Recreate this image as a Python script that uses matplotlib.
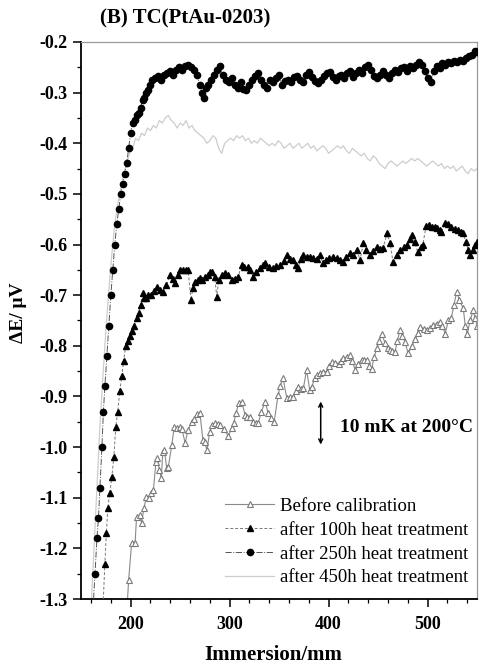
import matplotlib
matplotlib.use("Agg")
import matplotlib.pyplot as plt
from matplotlib.ticker import MultipleLocator, FormatStrFormatter

plt.rcParams["font.family"] = ["Liberation Serif", "DejaVu Serif"]

# ---- data (immersion mm, dE uV) ----
x_250 = [162, 164, 166, 167.5, 169, 171, 172.5, 174, 176, 178, 180, 182, 184, 186, 188, 190,
         192, 194, 196, 198, 200, 202, 204, 206, 208, 210, 212, 214, 216, 218, 220, 222,
         225, 228, 231, 234, 237, 240, 243, 246, 249, 252, 255, 258, 261, 264, 267, 270,
         272, 274, 276, 278, 281, 284, 287, 290, 293, 296, 299, 302, 305, 308, 311, 314,
         317, 320, 323, 326, 329, 332, 335, 338, 341, 344, 347, 350, 353, 356, 359, 362,
         365, 368, 371, 374, 377, 380, 383, 386, 389, 392, 395, 398, 401, 404, 407, 410,
         413, 416, 419, 422, 425, 428, 431, 434, 437, 440, 443, 446, 449, 452, 455, 458,
         461, 464, 467, 470, 473, 476, 479, 482, 485, 488, 491, 494, 497, 500, 503, 506,
         509, 512, 515, 518, 521, 524, 527, 530, 533, 536, 539, 542, 545, 548, 550]
y_250 = [-1.32, -1.25, -1.18, -1.14, -1.08, -1.00, -0.93, -0.88, -0.82, -0.76, -0.70, -0.65,
         -0.60, -0.56, -0.53, -0.50, -0.48, -0.46, -0.44, -0.41, -0.38, -0.36, -0.355, -0.345,
         -0.34, -0.33, -0.315, -0.31, -0.30, -0.295, -0.285, -0.275, -0.272, -0.268, -0.275,
         -0.265, -0.262, -0.258, -0.265, -0.255, -0.25, -0.255, -0.248, -0.245, -0.25, -0.255,
         -0.265, -0.285, -0.30, -0.31, -0.29, -0.285, -0.275, -0.265, -0.255, -0.248, -0.265,
         -0.275, -0.28, -0.272, -0.285, -0.29, -0.28, -0.292, -0.295, -0.285, -0.275, -0.268,
         -0.262, -0.275, -0.285, -0.29, -0.275, -0.28, -0.272, -0.265, -0.285, -0.278, -0.275,
         -0.28, -0.27, -0.268, -0.275, -0.28, -0.265, -0.26, -0.27, -0.278, -0.282, -0.275,
         -0.268, -0.262, -0.26, -0.27, -0.275, -0.268, -0.265, -0.272, -0.262, -0.258, -0.27,
         -0.262, -0.255, -0.262, -0.25, -0.245, -0.255, -0.268, -0.272, -0.265, -0.258, -0.265,
         -0.272, -0.262, -0.255, -0.26, -0.252, -0.25, -0.258, -0.248, -0.252, -0.245, -0.24,
         -0.245, -0.258, -0.272, -0.28, -0.258, -0.248, -0.252, -0.242, -0.245, -0.24, -0.242,
         -0.238, -0.24, -0.235, -0.238, -0.232, -0.228, -0.225, -0.218, -0.22]

x_450 = [160, 163, 166, 169, 172, 175, 178, 181, 184, 187, 190, 193, 196, 199, 202, 205,
         208, 211, 214, 217, 220, 223, 226, 229, 232, 235, 238, 241, 244, 247, 250, 253,
         256, 259, 262, 265, 268, 271, 274, 277, 280, 283, 286, 289, 292, 295, 298, 301,
         304, 307, 310, 313, 316, 319, 322, 325, 328, 331, 334, 337, 340, 343, 346, 349,
         352, 355, 358, 361, 364, 367, 370, 373, 376, 379, 382, 385, 388, 391, 394, 397,
         400, 403, 406, 409, 412, 415, 418, 421, 424, 427, 430, 433, 436, 439, 442, 445,
         448, 451, 454, 457, 460, 463, 466, 469, 472, 475, 478, 481, 484, 487, 490, 493,
         496, 499, 502, 505, 508, 511, 514, 517, 520, 523, 526, 529, 532, 535, 538, 541,
         544, 547, 550]
y_450 = [-1.32, -1.20, -1.08, -0.96, -0.86, -0.77, -0.69, -0.62, -0.56, -0.52, -0.49, -0.46,
         -0.44, -0.42, -0.41, -0.39, -0.395, -0.38, -0.385, -0.37, -0.375, -0.365, -0.37,
         -0.355, -0.36, -0.35, -0.345, -0.355, -0.36, -0.37, -0.36, -0.365, -0.355, -0.37,
         -0.365, -0.375, -0.38, -0.385, -0.39, -0.40, -0.395, -0.385, -0.39, -0.41, -0.42,
         -0.40, -0.395, -0.39, -0.395, -0.385, -0.39, -0.385, -0.395, -0.39, -0.40, -0.395,
         -0.40, -0.39, -0.395, -0.40, -0.405, -0.40, -0.405, -0.395, -0.40, -0.41, -0.405,
         -0.40, -0.41, -0.405, -0.40, -0.41, -0.405, -0.40, -0.41, -0.405, -0.415, -0.41,
         -0.405, -0.41, -0.42, -0.415, -0.41, -0.405, -0.41, -0.405, -0.415, -0.42, -0.41,
         -0.415, -0.42, -0.425, -0.42, -0.43, -0.435, -0.425, -0.43, -0.44, -0.445, -0.45,
         -0.44, -0.435, -0.44, -0.445, -0.44, -0.435, -0.44, -0.435, -0.43, -0.435, -0.43,
         -0.435, -0.44, -0.445, -0.44, -0.435, -0.44, -0.445, -0.44, -0.45, -0.445, -0.45,
         -0.445, -0.455, -0.45, -0.445, -0.455, -0.46, -0.45, -0.455, -0.45]

x_100 = [172, 174, 175.5, 177, 179, 181, 183, 185, 187, 189, 191, 193, 195, 197, 199.5, 201.5,
         203.5, 206, 208, 210, 212, 214, 216, 218, 221, 224, 227, 230, 233, 236, 240, 243,
         245, 248, 250, 253, 256, 258, 261, 263, 265, 268, 270, 272, 275, 278, 280, 282,
         285, 287, 289, 292, 295, 298, 302, 305, 308.6, 312, 315, 318.7, 321, 323.7, 327,
         330.8, 334, 336, 340, 344, 347, 351, 355, 358, 361, 364, 367, 369, 372, 374, 378,
         381, 384, 388, 391, 394.5, 397, 400, 404, 408, 411, 414.6, 418, 421.7, 425, 428.5,
         431.8, 435, 438, 442, 445, 448.7, 452, 455, 459, 462, 465, 469, 472, 476, 479, 482,
         484, 487, 490, 493, 495, 498.5, 501, 504, 507, 509, 512, 514, 517.7, 521, 524, 528,
         531, 534, 536, 538.6, 541, 543, 546, 548, 550]
y_100 = [-1.32, -1.23, -1.17, -1.12, -1.09, -1.06, -1.02, -0.96, -0.93, -0.89, -0.86, -0.83,
         -0.80, -0.79, -0.78, -0.77, -0.76, -0.745, -0.735, -0.72, -0.696, -0.705, -0.706,
         -0.70, -0.70, -0.692, -0.684, -0.69, -0.694, -0.68, -0.66, -0.668, -0.676, -0.66,
         -0.651, -0.651, -0.651, -0.651, -0.71, -0.685, -0.674, -0.67, -0.666, -0.67, -0.664,
         -0.66, -0.654, -0.654, -0.665, -0.703, -0.67, -0.66, -0.657, -0.66, -0.67, -0.668,
         -0.664, -0.641, -0.645, -0.644, -0.65, -0.664, -0.655, -0.647, -0.64, -0.637, -0.645,
         -0.647, -0.642, -0.641, -0.632, -0.621, -0.628, -0.631, -0.64, -0.647, -0.628, -0.621,
         -0.625, -0.624, -0.627, -0.628, -0.621, -0.637, -0.63, -0.627, -0.624, -0.627, -0.63,
         -0.634, -0.625, -0.617, -0.62, -0.611, -0.631, -0.597, -0.61, -0.621, -0.612, -0.605,
         -0.608, -0.607, -0.578, -0.597, -0.634, -0.62, -0.611, -0.605, -0.601, -0.59, -0.582,
         -0.595, -0.615, -0.605, -0.601, -0.564, -0.562, -0.565, -0.566, -0.568, -0.572,
         -0.575, -0.557, -0.56, -0.565, -0.57, -0.572, -0.575, -0.578, -0.595, -0.61, -0.621,
         -0.61, -0.601, -0.595]

x_bef = [196, 198, 201, 204.5, 206, 209.6, 211, 213.5, 216, 219, 221, 223, 225.5, 227, 229,
         231, 232.5, 234, 236.5, 238, 241.6, 244, 247, 250, 252, 255, 258, 261.8, 264, 266.8,
         270, 273, 275, 277, 280, 282, 285, 288, 290, 294, 298.8, 302, 304, 306.6, 309, 312.4,
         315.7, 318, 320.7, 324, 327, 329, 332, 335.9, 339, 342, 345, 349, 351, 354, 357.8,
         361, 364.4, 367, 369.5, 372, 374.5, 377.7, 381, 383, 386, 388.5, 391.4, 394.7, 398,
         400.5, 403, 406.5, 410, 412.5, 415, 418.5, 421.7, 424, 426.8, 430, 433.5, 436, 438.6,
         441, 443.6, 446, 448.7, 451, 453.7, 457, 459.5, 462, 464.5, 467, 469.5, 472, 474.5,
         477, 480.4, 484, 487.4, 490, 492.4, 496, 499, 502.5, 505.9, 509, 512.6, 515, 517.7,
         521, 524, 526.5, 529.5, 532, 536, 538, 540, 543, 546, 548, 550]
y_bef = [-1.33, -1.263, -1.19, -1.19, -1.138, -1.134, -1.15, -1.12, -1.098, -1.10, -1.09,
         -1.085, -1.03, -1.022, -1.045, -1.061, -1.01, -1.006, -1.041, -1.04, -0.996, -0.96,
         -0.962, -0.96, -0.965, -0.992, -0.967, -0.95, -0.945, -0.935, -0.933, -0.986, -0.99,
         -1.006, -0.97, -0.957, -0.953, -0.955, -0.957, -0.965, -0.978, -0.963, -0.953,
         -0.933, -0.913, -0.911, -0.937, -0.94, -0.94, -0.95, -0.952, -0.953, -0.93, -0.911,
         -0.933, -0.942, -0.95, -0.897, -0.88, -0.864, -0.904, -0.902, -0.901, -0.89, -0.881,
         -0.886, -0.884, -0.848, -0.888, -0.881, -0.864, -0.858, -0.854, -0.851, -0.851,
         -0.84, -0.832, -0.834, -0.835, -0.83, -0.825, -0.822, -0.818, -0.83, -0.848, -0.835,
         -0.828, -0.828, -0.828, -0.84, -0.845, -0.822, -0.805, -0.79, -0.776, -0.795, -0.805,
         -0.809, -0.81, -0.812, -0.79, -0.769, -0.78, -0.792, -0.815, -0.80, -0.786, -0.775,
         -0.763, -0.766, -0.769, -0.764, -0.759, -0.756, -0.753, -0.76, -0.776, -0.75, -0.745,
         -0.72, -0.693, -0.71, -0.726, -0.76, -0.776, -0.75, -0.73, -0.745, -0.76]

labels = ["Before calibration", "after 100h heat treatment",
          "after 250h heat treatment", "after 450h heat treatment"]

fig = plt.figure(figsize=(4.8, 6.66), dpi=100)
ax = fig.add_axes([0.169, 0.1006, 0.825, 0.8364])

ax.plot(x_450, y_450, color="#cdcdcd", lw=0.9, zorder=1, label=labels[3])
ax.plot(x_bef, y_bef, color="#8a8a8a", lw=0.8, marker="^", ms=4.5, mfc="white",
        mec="#7a7a7a", mew=0.8, zorder=2, label=labels[0])
ax.plot(x_100, y_100, color="#777777", lw=0.7, ls=(0, (3, 2)), marker="^", ms=4.5,
        mfc="black", mec="black", zorder=3, label=labels[1])
ax.plot(x_250, y_250, color="#555555", lw=0.7, ls="-.", marker="o", ms=4.5,
        mfc="black", mec="black", zorder=4, label=labels[2])

ax.set_xlim(150, 550)
ax.set_ylim(-1.3, -0.2)
ax.xaxis.set_major_locator(MultipleLocator(100))
ax.xaxis.set_minor_locator(MultipleLocator(20))
ax.yaxis.set_major_locator(MultipleLocator(0.1))
ax.yaxis.set_minor_locator(MultipleLocator(0.05))
ax.yaxis.set_major_formatter(FormatStrFormatter("%.1f"))
ax.tick_params(which="major", direction="out", length=6, width=1.1, pad=3.5, labelsize=13)
ax.tick_params(which="minor", direction="out", length=3, width=0.9)
ax.tick_params(axis="x", which="major", pad=6)
for t in ax.get_xticklabels() + ax.get_yticklabels():
    t.set_fontweight("bold")
for s in ("left", "bottom"):
    ax.spines[s].set_linewidth(1.3)
for s in ("top", "right"):
    ax.spines[s].set_color("#999999")
    ax.spines[s].set_linewidth(0.9)

h, l = ax.get_legend_handles_labels()
order = [1, 2, 3, 0]
ax.legend([h[i] for i in order], [l[i] for i in order], loc="lower left",
          bbox_to_anchor=(0.345, 0.009), frameon=False, fontsize=13.5,
          handlelength=2.6, handletextpad=0.3, labelspacing=0.36, borderaxespad=0)

ax.annotate("", xy=(392, -0.91), xytext=(392, -0.995),
            arrowprops=dict(arrowstyle="<->", lw=1.1, color="black",
                            shrinkA=0, shrinkB=0, mutation_scale=7))
ax.text(411, -0.962, "10 mK at 200°C", fontsize=14, fontweight="bold",
        ha="left", va="center")

fig.text(0.208, 0.972, "(B) TC(PtAu-0203)", fontsize=15, fontweight="bold",
         ha="left", va="center")
fig.text(0.038, 0.53, "ΔE/ μV", fontsize=14, fontweight="bold", rotation=90,
         ha="center", va="center")
fig.text(0.57, 0.017, "Immersion/mm", fontsize=15, fontweight="bold",
         ha="center", va="center")

fig.savefig("out.png", dpi=100)
